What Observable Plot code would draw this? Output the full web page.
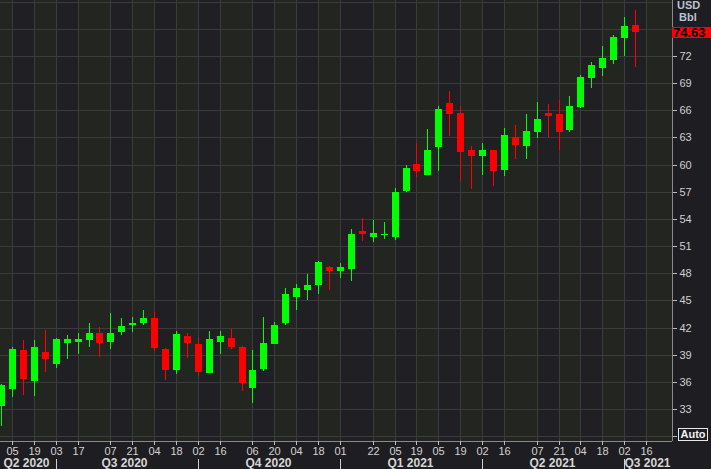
<!DOCTYPE html>
<html><head><meta charset="utf-8">
<script src="https://cdn.jsdelivr.net/npm/d3@7"></script>
<script src="https://cdn.jsdelivr.net/npm/@observablehq/plot@0.6"></script>
<style>
html,body{margin:0;padding:0;background:#1e1d21;overflow:hidden;}
#chart svg{display:block;}
</style></head><body><div id="chart"></div>
<script>
// ---- data (weekly candles, Friday dates) ----
const dates = ["2020-05-29","2020-06-05","2020-06-12","2020-06-19","2020-06-26","2020-07-03","2020-07-10","2020-07-17","2020-07-24","2020-07-31",
"2020-08-07","2020-08-14","2020-08-21","2020-08-28","2020-09-04","2020-09-11","2020-09-18","2020-09-25","2020-10-02","2020-10-09",
"2020-10-16","2020-10-23","2020-10-30","2020-11-06","2020-11-13","2020-11-20","2020-11-27","2020-12-04","2020-12-11","2020-12-18",
"2020-12-25","2021-01-01","2021-01-08","2021-01-15","2021-01-22","2021-01-29","2021-02-05","2021-02-12","2021-02-19","2021-02-26",
"2021-03-05","2021-03-12","2021-03-19","2021-03-26","2021-04-02","2021-04-09","2021-04-16","2021-04-23","2021-04-30","2021-05-07",
"2021-05-14","2021-05-21","2021-05-28","2021-06-04","2021-06-11","2021-06-18","2021-06-25","2021-07-02","2021-07-09"];
const open  = [33.33,35.21,39.52,36.09,39.30,38.00,40.33,40.40,40.62,41.39,
40.40,41.50,42.28,42.50,43.05,39.63,37.31,41.06,40.18,36.97,
40.40,40.84,39.85,35.35,37.42,40.18,42.50,45.37,46.15,46.70,
48.69,48.25,48.47,52.66,52.00,52.22,52.00,57.09,60.07,58.85,
61.95,66.81,65.70,61.62,60.95,61.62,59.41,63.05,62.06,63.60,
65.70,65.59,63.83,66.37,69.61,70.68,71.56,73.99,75.43];
const high  = [35.80,39.88,40.62,40.62,41.73,40.88,41.17,41.43,42.54,42.09,
43.64,43.05,43.16,43.93,43.71,39.74,41.61,41.39,40.95,41.61,
41.61,41.83,39.96,39.52,43.16,42.61,46.37,46.81,47.91,49.35,
48.80,49.13,52.89,54.10,53.88,53.66,57.42,59.96,62.39,63.94,
66.48,68.13,66.48,62.06,62.39,61.62,64.05,64.38,65.59,66.92,
66.70,67.14,67.58,69.90,71.34,73.11,74.32,76.31,77.09];
const low   = [31.12,34.36,34.54,34.43,37.12,37.56,38.52,39.07,39.85,38.74,
39.63,41.17,41.50,42.28,39.40,36.20,36.86,38.63,36.64,36.97,
39.07,39.63,35.02,33.70,37.20,40.18,42.28,43.94,45.04,45.70,
46.15,47.47,47.14,51.56,51.45,51.78,51.67,56.97,58.63,58.85,
59.30,63.16,58.19,57.31,58.85,57.64,58.74,60.62,60.62,62.94,
63.05,61.62,63.60,66.26,68.47,69.79,71.12,72.00,70.79];
const close = [35.65,39.63,36.31,39.85,38.52,40.73,40.73,40.73,41.39,40.29,
41.39,42.17,42.50,43.05,39.74,37.31,41.28,40.29,37.08,40.73,
41.06,39.85,35.83,37.31,40.29,42.28,45.70,46.37,46.70,49.24,
48.25,48.69,52.33,52.33,52.44,52.33,56.97,59.63,59.30,61.62,
66.15,65.59,61.39,60.95,61.62,59.30,63.27,62.17,63.72,65.04,
65.37,63.60,66.48,69.68,71.01,71.78,74.10,75.32,74.63];

const tickDates = ["2020-06-05","2020-06-19","2020-07-03","2020-07-17","2020-08-07","2020-08-21","2020-09-04","2020-09-18",
"2020-10-02","2020-10-16","2020-11-06","2020-11-20","2020-12-04","2020-12-18","2021-01-01","2021-01-22","2021-02-05","2021-02-19",
"2021-03-05","2021-03-19","2021-04-02","2021-04-16","2021-05-07","2021-05-21","2021-06-04","2021-06-18","2021-07-02","2021-07-16"];
const quarterLabels = ["Q2 2020","Q3 2020","Q4 2020","Q1 2021","Q2 2021","Q3 2021"];
const quarterStarts = ["2020-04-01","2020-07-01","2020-10-01","2021-01-01","2021-04-01","2021-07-01","2021-10-01"];
const quarterFirstTicks = ["2020-07-03","2020-10-02","2021-01-01","2021-04-02","2021-07-02"];
const yTicks = [30,33,36,39,42,45,48,51,54,57,60,63,66,69,72];
const yGrid = [30,33,36,39,42,45,48,51,54,57,60,63,66,69,72,75,78];
const lastPrice = 74.63;
const unitLabels = ["USD","Bbl"];
const autoLabel = "Auto";

// ---- scales ----
const xDomain = [new Date("2020-05-28T07:36Z"), new Date("2021-08-01T15:22Z")];
const yDomain = [29.46, 78.19];

const UP = "#00ff00", DOWN = "#ff0000";
const BAND_A = "#232521", BAND_B = "#201f24", GRID = "#3b3b3b";
const FONT = "'Liberation Sans', Arial, sans-serif";

const candles = dates.map((d, i) => ({date: new Date(d), open: open[i], high: high[i], low: low[i], close: close[i]}));
const ticks = tickDates.map(d => new Date(d));
const bounds = [xDomain[0], ...ticks, xDomain[1]];
const stripes = d3.pairs(bounds).map(([a, b], i) => ({x1: a, x2: b, i}));
const quarters = quarterLabels.map((label, i) => {
  const a = Math.max(+new Date(quarterStarts[i]), +xDomain[0]);
  const b = Math.min(+new Date(quarterStarts[i + 1]), +xDomain[1]);
  return {label, mid: new Date((a + b) / 2)};
});
const qTicks = quarterFirstTicks.map(d => new Date(d));
const colorOf = d => d.close >= d.open ? UP : DOWN;

function overlay(index, scales, values, dimensions) {
  const {width, height, marginRight, marginBottom} = dimensions;
  const fx = width - marginRight;
  const fy = height - marginBottom;
  const g = d3.create("svg:g").attr("font-family", FONT).attr("text-anchor", "start");
  // quarter boundary marks under the date labels
  for (const d of qTicks) {
    const x = Math.round(scales.x(d)) + 0.5;
    g.append("line").attr("x1", x).attr("x2", x).attr("y1", fy + 18).attr("y2", height)
      .attr("stroke", "#cfcfcf").attr("stroke-width", 1);
  }
  // last price tag
  const yT = Math.round(scales.y(lastPrice));
  g.append("rect").attr("x", fx).attr("y", yT - 5).attr("width", marginRight).attr("height", 11).attr("fill", "#ff0000");
  g.append("text").attr("x", fx + 1).attr("y", yT).attr("dy", "0.36em").attr("fill", "#000").attr("text-anchor", "start")
    .attr("font-weight", "bold").attr("font-size", 13).text(lastPrice.toFixed(2));
  // units
  g.append("text").attr("x", fx + 5).attr("y", 9).attr("fill", "#b8c2d2").attr("font-weight", "bold").attr("text-anchor", "start")
    .attr("font-size", 11).text(unitLabels[0]);
  g.append("text").attr("x", fx + 7).attr("y", 21).attr("fill", "#b8c2d2").attr("font-weight", "bold").attr("text-anchor", "start")
    .attr("font-size", 11).text(unitLabels[1]);
  // Auto button
  g.append("rect").attr("x", fx + 6.5).attr("y", fy - 12.5).attr("width", 29).attr("height", 12)
    .attr("fill", "#1e1d21").attr("stroke", "#e8e8e8").attr("stroke-width", 1);
  g.append("text").attr("x", fx + 21).attr("y", fy - 6.5).attr("dy", "0.36em").attr("text-anchor", "middle")
    .attr("fill", "#f0f0f0").attr("font-weight", "bold").attr("font-size", 11).text(autoLabel);
  return g.node();
}

const chart = Plot.plot({
  width: 711, height: 469,
  marginLeft: 0, marginRight: 39, marginTop: 0, marginBottom: 28,
  style: {background: "#1e1d21", fontFamily: FONT, fontSize: "11px", color: "#cfcfcf", overflow: "visible"},
  x: {type: "utc", domain: xDomain, axis: null, round: true},
  y: {domain: yDomain, axis: null, round: true},
  marks: [
    Plot.rect(stripes, {x1: "x1", x2: "x2", y1: () => yDomain[0], y2: () => yDomain[1], fill: d => d.i % 2 ? BAND_B : BAND_A}),
    Plot.ruleX(ticks, {x: d => d, stroke: GRID, strokeWidth: 1}),
    Plot.ruleY(yGrid, {y: d => d, stroke: GRID, strokeWidth: 1}),
    Plot.ruleX(candles, {x: "date", y1: "low", y2: "high", stroke: colorOf, strokeWidth: 1, clip: true}),
    Plot.ruleX(candles, {x: "date", y1: "open", y2: d => Math.abs(d.close - d.open) < 0.08 ? d.open + 0.12 : d.close, stroke: colorOf, strokeWidth: 7, clip: true}),
    Plot.ruleY([yDomain[0]], {stroke: "#8a8a8a"}),
    Plot.ruleX([xDomain[1]], {stroke: "#8a8a8a"}),
    Plot.axisX(ticks, {tickSize: 4, tickPadding: 2, tickFormat: d3.utcFormat("%d"), stroke: "#bdbdbd", fill: "#d2d2d2", fontSize: 11, label: null}),
    Plot.axisY(yTicks, {anchor: "right", tickSize: 4, tickPadding: 3, tickFormat: d => d === 30 ? "" : String(d), stroke: "#bdbdbd", fill: "#cfcfcf", fontSize: 11, label: null}),
    Plot.text(quarters, {x: "mid", text: "label", frameAnchor: "bottom", dy: 22, fill: "#d6d6d6", fontWeight: "bold", fontSize: 12, lineAnchor: "middle"}),
    overlay
  ]
});
document.getElementById("chart").appendChild(chart);
</script>
</body></html>
